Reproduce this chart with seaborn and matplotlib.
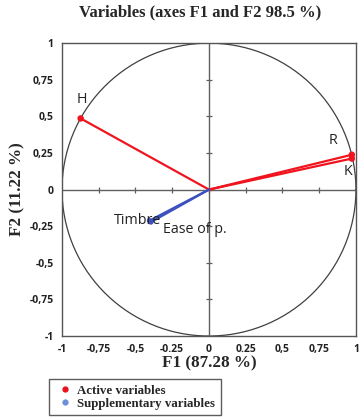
import numpy as np
import pandas as pd
import matplotlib
matplotlib.use("Agg")
import matplotlib.pyplot as plt
from matplotlib.lines import Line2D
import seaborn as sns

sns.set_style("white")

# correlation circle coordinates (F1, F2)
var_names = ["H", "R", "K", "Timbre", "Ease of p."]
var_type = ["Active", "Active", "Active", "Supplementary", "Supplementary"]
f1 = [-0.873, 0.972, 0.972, -0.405, -0.395]
f2 = [0.486, 0.238, 0.212, -0.212, -0.222]

# label positions next to the vectors
label_x = [-0.866, 0.841, 0.946, -0.487, -0.095]
label_y = [0.618, 0.333, 0.121, -0.213, -0.27]

xtick_vals = [-1, -0.75, -0.5, -0.25, 0, 0.25, 0.5, 0.75, 1]
xtick_labels = ["-1", "-0,75", "-0,5", "-0.25", "0", "0.25", "0,5", "0,75", "1"]
ytick_vals = [-1, -0.75, -0.5, -0.25, 0, 0.25, 0.5, 0.75, 1]
ytick_labels = ["-1", "-0,75", "-0,5", "-0,25", "0", "0,25", "0,5", "0,75", "1"]

colors = {"Active": "#f0141e", "Supplementary": "#3c50c0"}
dot_colors = {"Active": "#e8121c", "Supplementary": "#6b8fd8"}

rows = []
for n, t, x, y in zip(var_names, var_type, f1, f2):
    rows.append({"var": n, "type": t, "F1": 0.0, "F2": 0.0})
    rows.append({"var": n, "type": t, "F1": x, "F2": y})
seg = pd.DataFrame(rows)
ends = pd.DataFrame({"var": var_names, "type": var_type, "F1": f1, "F2": f2})

fig = plt.figure(figsize=(3.61, 4.19), dpi=100)
ax = fig.add_axes([0.1717, 0.198, 0.8143, 0.699])

# unit circle
theta = np.linspace(0, 2 * np.pi, 400)
ax.plot(np.cos(theta), np.sin(theta), color="#404040", lw=0.9, zorder=1)

# zero axes with small tick marks
ax.axhline(0, color="#606060", lw=1.0, zorder=1)
ax.axvline(0, color="#606060", lw=1.0, zorder=1)
inner = [v for v in xtick_vals if -1 < v < 1]
ax.plot(inner, [0] * len(inner), ls="none", marker="|", ms=5, mew=0.9, color="#606060", zorder=1)
ax.plot([0] * len(inner), inner, ls="none", marker="_", ms=5, mew=0.9, color="#606060", zorder=1)

sns.lineplot(data=seg, x="F1", y="F2", units="var", estimator=None, hue="type",
             palette=colors, lw=1.6, sort=False, legend=False, ax=ax, zorder=3)
act = ends[ends["type"] == "Active"]
sns.scatterplot(data=act, x="F1", y="F2", color=colors["Active"], s=22,
                edgecolor="none", legend=False, ax=ax, zorder=4)
sup = ends[ends["type"] == "Supplementary"]
sns.scatterplot(data=sup, x="F1", y="F2", color=colors["Supplementary"], s=14,
                edgecolor="none", legend=False, ax=ax, zorder=4)

for n, lx, ly in zip(var_names, label_x, label_y):
    ax.text(lx, ly, n, ha="center", va="center", fontsize=10.3,
            family="Open Sans", color="#222222", zorder=5)

ax.set_xlim(-1, 1)
ax.set_ylim(-1, 1)
ax.set_xticks(xtick_vals)
ax.set_xticklabels(xtick_labels)
ax.set_yticks(ytick_vals)
ax.set_yticklabels(ytick_labels)
ax.tick_params(length=0, pad=6, labelsize=7.5, colors="#222222")
for lab in ax.get_xticklabels() + ax.get_yticklabels():
    lab.set_fontfamily("Open Sans")
    lab.set_fontweight("bold")
for sp in ax.spines.values():
    sp.set_color("#555555")
    sp.set_linewidth(1.0)

ax.set_xlabel("F1 (87.28 %)", family="Liberation Serif", fontweight="bold",
              fontsize=12.3, labelpad=0)
ax.set_ylabel("F2 (11.22 %)", family="Liberation Serif", fontweight="bold",
              fontsize=12.3, labelpad=3)
ax.set_title("Variables (axes F1 and F2 98.5 %)", family="Liberation Serif",
             fontweight="bold", fontsize=12, pad=19, x=0.47)

handles = [
    Line2D([], [], ls="none", marker="o", ms=3.5, color=dot_colors["Active"], label="Active variables"),
    Line2D([], [], ls="none", marker="o", ms=3.5, color=dot_colors["Supplementary"], label="Supplementary variables"),
]
leg = fig.legend(handles=handles, loc="upper left", bbox_to_anchor=(0.118, 0.11),
                 frameon=True, fancybox=False, borderpad=0.4, handletextpad=0.2,
                 handlelength=1.6, labelspacing=0.1,
                 prop={"family": "Liberation Serif", "weight": "bold", "size": 9.3})
leg.get_frame().set_edgecolor("#333333")
leg.get_frame().set_linewidth(1.0)

fig.savefig("out.png", dpi=100)
